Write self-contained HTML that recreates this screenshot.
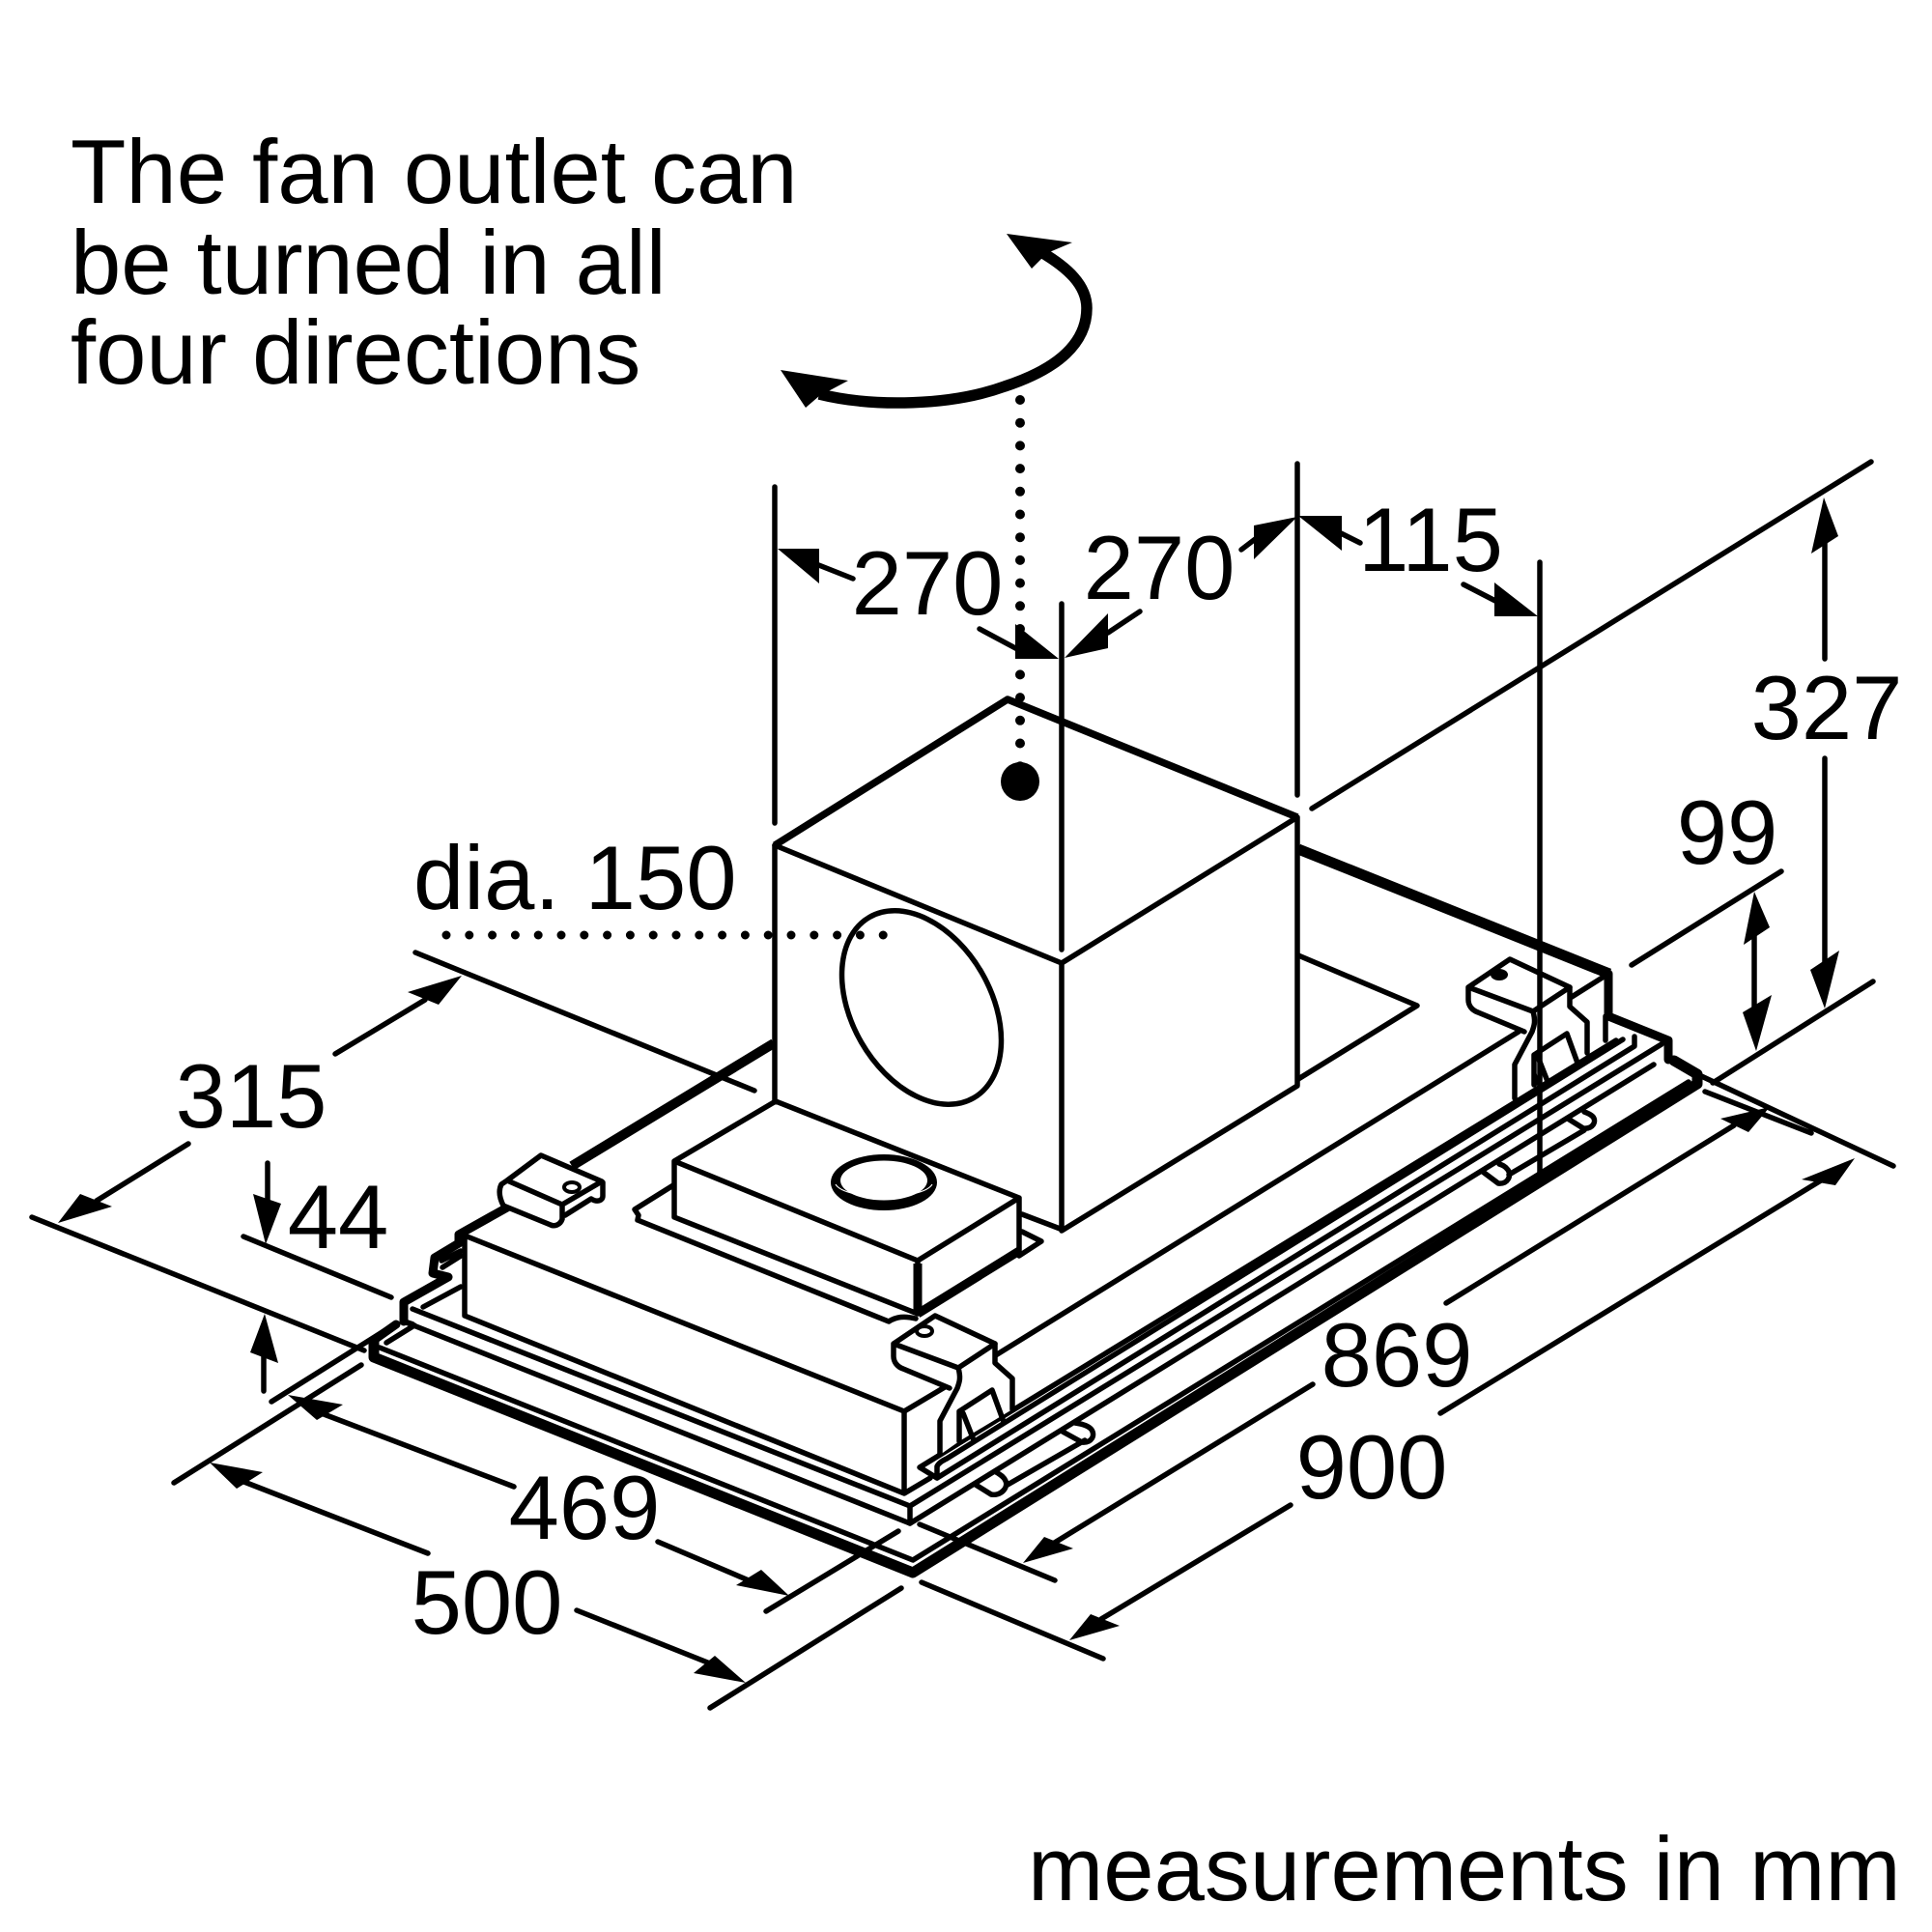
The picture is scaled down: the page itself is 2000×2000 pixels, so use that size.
<!DOCTYPE html>
<html lang="en"><head><meta charset="utf-8"><title>Fan outlet measurements</title>
<style>html,body{margin:0;padding:0;background:#fff}svg{display:block}
text{font-family:"Liberation Sans",Arial,sans-serif;font-size:94px;fill:#000}
.n{text-anchor:middle}
.l{fill:none;stroke:#000;stroke-width:5.5;stroke-linecap:round;stroke-linejoin:round}
.t{fill:none;stroke:#000;stroke-width:9;stroke-linecap:round;stroke-linejoin:round}
.w{fill:#fff;stroke:none}
</style></head><body>
<svg xmlns="http://www.w3.org/2000/svg" width="2000" height="2000" viewBox="0 0 2000 2000">
<rect width="2000" height="2000" fill="#fff"/>
<!-- labels -->
<text x="73" y="210">The fan outlet can</text>
<text x="73" y="304">be turned in all</text>
<text x="73" y="397">four directions</text>
<text class="n" x="960" y="636">270</text>
<text class="n" x="1200" y="620">270</text>
<text class="n" x="1481" y="591">115</text>
<text class="n" x="1891" y="765">327</text>
<text class="n" x="1788" y="894">99</text>
<text x="428" y="941">dia. 150</text>
<text class="n" x="260" y="1167">315</text>
<text class="n" x="350" y="1292">44</text>
<text class="n" x="605" y="1593">469</text>
<text class="n" x="504" y="1691">500</text>
<text class="n" x="1446" y="1435">869</text>
<text class="n" x="1420" y="1551">900</text>
<text x="1064" y="1967">measurements in mm</text>

<!-- rotation arrow -->
<path d="M848 408 C 905 422 985 420 1040 400 C 1095 382 1125 355 1125 319 C 1125 295 1105 277 1078 261" fill="none" stroke="#000" stroke-width="11.5"/>
<path d="M808 383 L878 394 L848 410 L834 422 Z"/>
<path d="M1042 242 L1110 251 L1084 262 L1068 278 Z"/>
<!-- dotted -->
<path d="M1056 414 V800" fill="none" stroke="#000" stroke-width="10" stroke-linecap="round" stroke-dasharray="0 23.7"/>
<circle cx="1056" cy="809" r="20"/>
<path d="M462 968 H920" fill="none" stroke="#000" stroke-width="9" stroke-linecap="round" stroke-dasharray="0 23.8"/>

<!-- extension lines top -->
<g class="l">
<path d="M802 504V852M1099 625V983M1343 480V823"/>
<path d="M1358 837L1937 478M1773 1121L1939 1016M1689 999L1844 902"/>
<path d="M430 986L781 1129M33 1260L377 1398M252 1280L405 1343"/>
<path d="M410 1370L281 1451M374 1413L180 1535M930 1585L793 1668M933 1644L735 1768"/>
<path d="M952 1578L1092 1636M954 1638L1142 1717"/>
<path d="M1757 1112L1960 1207M1765 1130L1875 1173"/>
<!-- shafts -->
<path d="M840 582L883 599M1014 651L1055 673M1147 655L1180 633M1285 569L1302 556M1380 548L1408 562M1515 605L1550 623"/>
<path d="M1889 540V682M1889 785V1000M1816 950V1060"/>
<path d="M440 1035L347 1091M100 1243L195 1184M277 1204V1250M273 1395V1440"/>
<path d="M330 1462L532 1539M245 1531L443 1608M681 1596L775 1636M597 1667L740 1724"/>
<path d="M1090 1598L1359 1433M1140 1676L1336 1558M1497 1349L1795 1165M1491 1463L1885 1222"/>
</g>
<!-- arrowheads -->
<path d="M805 568H848V604Z"/>
<path d="M1096 682H1051V646Z"/>
<path d="M1102 681L1147 635V671Z"/>
<path d="M1343 535L1298 544V579Z"/>
<path d="M1344 534H1389V570Z"/>
<path d="M1592 638H1547V603Z"/>
<path d="M1888 515L1903 555L1875 573Z"/>
<path d="M1889 1044L1904 984L1874 1004Z"/>
<path d="M1816 923L1832 960L1805 978Z"/>
<path d="M1818 1088L1834 1030L1804 1048Z"/>
<path d="M478 1010L422 1027L454 1040Z"/>
<path d="M60 1266L83 1236L116 1249Z"/>
<path d="M275 1288L262 1236L291 1246Z"/>
<path d="M274 1360L259 1400L288 1411Z"/>
<path d="M298 1444L355 1454L328 1470Z"/>
<path d="M217 1514L272 1524L245 1541Z"/>
<path d="M817 1652L788 1625L762 1641Z"/>
<path d="M772 1742L740 1714L718 1732Z"/>
<path d="M1059 1618L1081 1591L1111 1603Z"/>
<path d="M1107 1698L1129 1671L1159 1683Z"/>
<path d="M1832 1146L1781 1158L1810 1172Z"/>
<path d="M1920 1199L1865 1221L1900 1227Z"/>

<!-- large box -->
<g class="l">
<path d="M802 875L1099 997L1343 846M1099 997V1274L1343 1124V846"/>
<path d="M802 875V1140M1058 1257L1100 1273"/>
<path d="M1344 989L1467 1041L1344 1117"/>
<ellipse cx="954" cy="1043" rx="72" ry="108" transform="rotate(-30 954 1043)"/>
</g>
<path d="M802 875L1043 724L1343 846" fill="none" stroke="#000" stroke-width="7.5" stroke-linejoin="round"/>
<path d="M1344 879L1666 1008" fill="none" stroke="#000" stroke-width="11"/>
<path d="M801 1080L592 1207" fill="none" stroke="#000" stroke-width="10"/>

<!-- small box -->
<path class="w" d="M698 1202L803 1140L1055 1240V1293L950 1360L698 1260Z"/>
<g class="l">
<path d="M697 1227L657 1252L661 1258L660 1263L920 1368C928 1363 936 1362 948 1365"/>
<path d="M1058 1275L1078 1285L1055 1300"/>
<path d="M698 1202L803 1140L1055 1240L950 1305ZM698 1202V1260L950 1360M950 1305V1360M1055 1240V1297"/>
</g>
<path d="M950 1308V1360" fill="none" stroke="#000" stroke-width="9"/>
<path d="M950 1360L1055 1295" fill="none" stroke="#000" stroke-width="9"/>
<ellipse cx="915" cy="1224" rx="55" ry="29"/>
<ellipse cx="915" cy="1222" rx="45" ry="20.5" fill="#fff"/>
<path d="M865 1226C875 1243 955 1243 965 1226" fill="none" stroke="#fff" stroke-width="1.2"/>

<!-- long box -->
<path class="w" d="M481 1279L936 1461L978 1436V1525L936 1546L481 1362Z"/>
<g class="l">
<path d="M481 1279V1362L936 1546V1461L481 1279M936 1461L978 1436M936 1546L963 1530"/>
</g>

<!-- floor line and base -->
<g class="l">
<path d="M1029 1404L1572 1068"/>
<path d="M952 1519L1673 1077M952 1519L970 1530V1518C972 1514 976 1512 980 1510L1680 1076"/>
<path d="M970 1530L1692 1083V1073"/>
<path d="M942 1559L1720 1081M942 1577L1712 1102M942 1559V1577"/>
<path d="M427 1355L942 1559M428 1372L942 1577"/>
<path d="M393 1395L945 1615L1748 1120"/>
<path d="M438 1353L477 1332M457 1305L477 1295M458 1312L477 1300"/>
<path d="M429 1372L400 1390"/>
<!-- pills -->
<path d="M1010 1537L1026 1547C1036 1549 1044 1540 1041 1533C1039 1528 1034 1526 1030 1523M1043 1537L1123 1491M1100 1482L1120 1493C1130 1494 1134 1486 1130 1480C1127 1476 1120 1474 1113 1473"/>
<path d="M1535 1213L1551 1225C1561 1226 1565 1217 1561 1211C1558 1207 1555 1206 1552 1205M1562 1216L1640 1170M1623 1158L1639 1168C1649 1169 1653 1161 1649 1156C1646 1153 1643 1152 1640 1151"/>
<path d="M1665 1052L1727 1077"/>
</g>
<path d="M418 1348L464 1322L448 1318L450 1302L475 1287V1278L525 1250M418 1348V1368" class="t"/>
<path d="M386 1388L410 1371" class="t"/>
<path d="M418 1368L427 1371" class="t" style="stroke-width:6"/>
<path d="M387 1388V1405L945 1628L1757 1122V1112L1733 1098" class="t" style="stroke-width:11"/>
<path d="M1665 1008V1052L1727 1077V1097" class="t"/>

<!-- bracket left -->
<path class="w" d="M560 1196L623 1223L623 1243L585 1260L572 1268L523 1248L518 1240V1227Z"/>
<g class="l">
<path d="M525 1222L560 1196L623 1223L582 1247ZM525 1222L582 1247V1262C580 1268 574 1270 570 1268L521 1248C517 1240 516 1232 519 1226Z"/>
<path d="M585 1258L612 1241C618 1245 624 1243 624 1238V1224"/>
</g>
<ellipse cx="592" cy="1229" rx="8" ry="5" fill="#fff" stroke="#000" stroke-width="4"/>

<!-- brackets -->
<path class="w" d="M1563 993L1625 1022V1042L1643 1058V1090L1588 1123L1568 1137V1102L1585 1060L1530 1048L1520 1035V1022Z"/>
<g class="l">
<path d="M1520 1022L1563 993L1625 1022L1587 1047ZM1520 1022V1035C1520 1041 1524 1046 1530 1048L1578 1068"/>
<path d="M1587 1047C1590 1058 1588 1062 1586 1068L1568 1102V1137"/>
<path d="M1625 1022V1042L1643 1058V1090"/>
<path d="M1588 1092L1622 1070L1634 1103M1588 1092V1123M1592 1094L1603 1122"/>
</g>
<g transform="translate(-595 369)">
<path class="w" d="M1563 993L1625 1022V1042L1643 1058V1090L1588 1123L1568 1137V1102L1585 1060L1530 1048L1520 1035V1022Z"/>
<g class="l">
<path d="M1520 1022L1563 993L1625 1022L1587 1047ZM1520 1022V1035C1520 1041 1524 1046 1530 1048L1578 1068"/>
<path d="M1587 1047C1590 1058 1588 1062 1586 1068L1568 1102V1137"/>
<path d="M1625 1022V1042L1643 1058V1090"/>
<path d="M1588 1092L1622 1070L1634 1103M1588 1092V1123M1592 1094L1603 1122"/>
</g>
</g>
<ellipse cx="957" cy="1378" rx="8" ry="5" fill="#fff" stroke="#000" stroke-width="4"/>
<ellipse cx="1552" cy="1009" rx="9" ry="6"/>
<g class="l"><path d="M1627 1032L1665 1008M1662 1052V1077M1594 582V1222"/></g>
<path d="M1588 1105L1595 1122L1588 1125Z"/>
</svg>
</body></html>
